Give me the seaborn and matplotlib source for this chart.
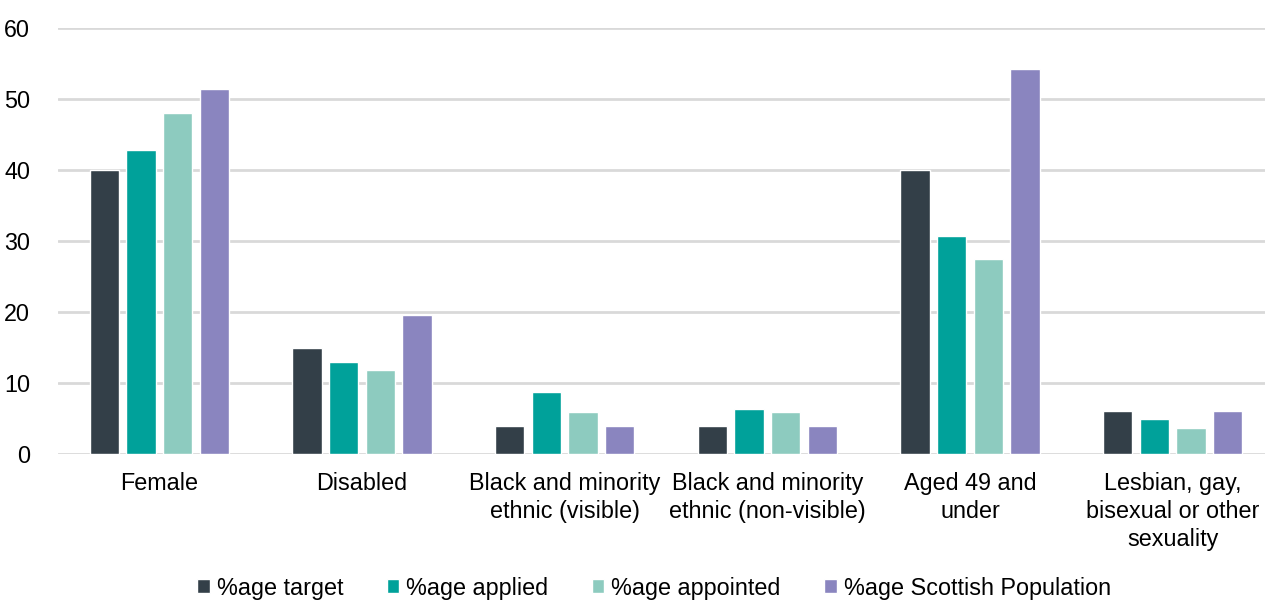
import matplotlib
matplotlib.use("Agg")
import matplotlib.pyplot as plt
import seaborn as sns
import pandas as pd

categories = [
    "Female",
    "Disabled",
    "Black and minority\nethnic (visible)",
    "Black and minority\nethnic (non-visible)",
    "Aged 49 and\nunder",
    "Lesbian, gay,\nbisexual or other\nsexuality",
]
series = ["%age target", "%age applied", "%age appointed", "%age Scottish Population"]
target = [40, 15, 4, 4, 40, 6]
applied = [42.8, 12.9, 8.7, 6.3, 30.7, 4.9]
appointed = [48.0, 11.9, 5.9, 5.9, 27.4, 3.7]
scottish_pop = [51.4, 19.6, 4.0, 4.0, 54.2, 6.0]
colors = ["#333F48", "#00A19A", "#8DCBBF", "#8A85BF"]

rows = []
for name, vals in zip(series, [target, applied, appointed, scottish_pop]):
    for cat, v in zip(categories, vals):
        rows.append({"category": cat, "series": name, "value": v})
df = pd.DataFrame(rows)

sns.set_theme(style="white")
plt.rcParams["font.family"] = ["Liberation Sans", "DejaVu Sans"]
plt.rcParams["text.color"] = "#000000"

W, H = 1265, 601
fig = plt.figure(figsize=(W / 100, H / 100), dpi=100)
left, right = 58, 1274
bottom, top = 454, 28
ax = fig.add_axes([left / W, 1 - bottom / H, (right - left) / W, (bottom - top) / H])

sns.barplot(data=df, x="category", y="value", hue="series", order=categories,
            hue_order=series, palette=colors, width=0.724, gap=0.2,
            saturation=1, errorbar=None, ax=ax, legend=True)

ax.set_xlim(-0.5, 5.5)
ax.set_ylim(0, 60)
ax.set_yticks(range(0, 61, 10))
ax.yaxis.grid(True, color="#D9D9D9", linewidth=2)
ax.set_axisbelow(True)
for s in ax.spines.values():
    s.set_visible(False)
ax.set_xlabel("")
ax.set_ylabel("")
ax.tick_params(axis="both", length=0, labelsize=16.8, colors="#000000")
ax.tick_params(axis="y", pad=20)
ax.tick_params(axis="x", pad=13)
for lbl in ax.get_xticklabels():
    lbl.set_linespacing(1.27)

handles, labels = ax.get_legend_handles_labels()
ax.get_legend().remove()
leg = fig.legend(handles, labels, loc="center", bbox_to_anchor=(654 / W, 1 - 588 / H),
                 ncol=4, frameon=False, fontsize=16.8, handlelength=0.55, handleheight=0.55,
                 handletextpad=0.3, columnspacing=1.85, borderaxespad=0)
for t in leg.get_texts():
    t.set_color("#000000")

fig.savefig("out.png", dpi=100)
